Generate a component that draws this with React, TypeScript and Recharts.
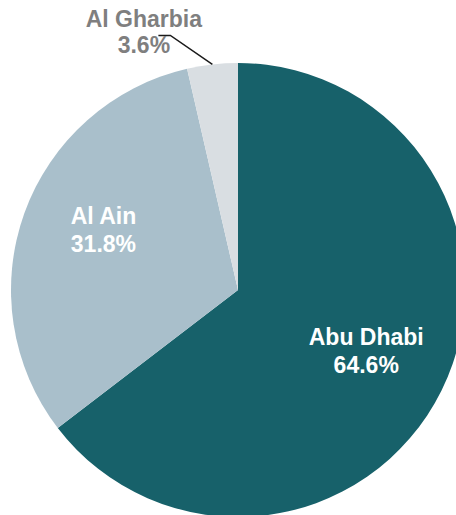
import React from 'react';
import { PieChart, Pie, Cell } from 'recharts';

const REGIONS = ['Abu Dhabi', 'Al Ain', 'Al Gharbia'];
const SHARES = [64.6, 31.8, 3.6];
const COLORS = ['#17616a', '#a9bfcb', '#d9dee2'];

const data = REGIONS.map((name, i) => ({ name, value: SHARES[i] }));

const RAD = Math.PI / 180;
const FONT = '"Liberation Sans", Arial, sans-serif';

const renderLabel = (props: any) => {
  const { cx, cy, midAngle, outerRadius, index, name, value } = props;
  const cos = Math.cos(-midAngle * RAD);
  const sin = Math.sin(-midAngle * RAD);

  if (index === 2) {
    // small slice: leader line out to the top-left
    const ex = cx + outerRadius * cos;
    const ey = cy + outerRadius * sin;
    const mx = ex - 42;
    const my = ey - 29;
    const hx = mx - 12;
    return (
      <g>
        <polyline points={`${ex},${ey} ${mx},${my} ${hx},${my}`} fill="none" stroke="#1a1a1a" strokeWidth={1.5} />
        <text x={mx - 26.5} y={my} textAnchor="middle" fill="#7f7f7f" fontFamily={FONT} fontWeight="bold" fontSize={23}>
          <tspan x={mx - 26.5} y={my - 8.5}>{name}</tspan>
          <tspan x={mx - 26.5} y={my + 18}>{value.toFixed(1)}%</tspan>
        </text>
      </g>
    );
  }

  const nudge = index === 1 ? -12 : -3;
  const r = outerRadius * 0.63;
  const x = cx + r * cos;
  const y = cy + r * sin + nudge;
  return (
    <text x={x} y={y} textAnchor="middle" fill="#ffffff" fontFamily={FONT} fontWeight="bold" fontSize={23}>
      <tspan x={x} y={y - 5.75}>{name}</tspan>
      <tspan x={x} y={y + 22.25}>{value.toFixed(1)}%</tspan>
    </text>
  );
};

export default function App() {
  return (
    <div style={{ position: 'absolute', left: 0, top: 0, width: 456, height: 515, background: '#ffffff' }}>
      <PieChart width={456} height={515} margin={{ top: 0, right: 0, bottom: 0, left: 0 }}>
        <Pie
          data={data}
          dataKey="value"
          nameKey="name"
          cx={238}
          cy={290}
          outerRadius={227}
          startAngle={90}
          endAngle={-270}
          stroke="none"
          labelLine={false}
          label={renderLabel}
          isAnimationActive={false}
        >
          {data.map((d, i) => (
            <Cell key={d.name} fill={COLORS[i]} />
          ))}
        </Pie>
      </PieChart>
    </div>
  );
}
